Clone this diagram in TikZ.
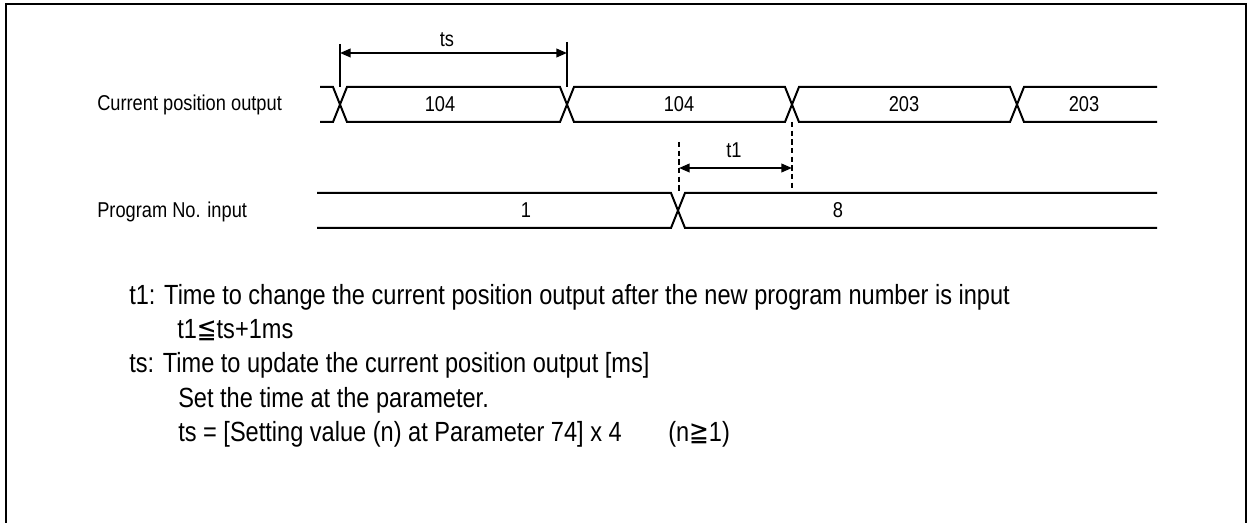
\documentclass[tikz,border=0pt]{standalone}
\usepackage{fontspec}
\setmainfont{Liberation Sans}[FakeStretch=0.85]
\newfontfamily\dvs{DejaVu Sans}[FakeStretch=0.85]
\usetikzlibrary{arrows.meta}
\begin{document}
\begin{tikzpicture}[x=0.75pt,y=-0.75pt,
  bus/.style={line width=1.5pt, line join=miter},
  tick/.style={line width=0.8pt},
  dsh/.style={line width=0.8pt, dash pattern=on 4pt off 2.5pt},
  dim/.style={line width=1.3pt, {Triangle[length=8pt,width=6.5pt]}-{Triangle[length=8pt,width=6.5pt]}},
  lbl/.style={inner sep=0pt, font=\fontsize{16.1}{19}\selectfont},
  txt/.style={inner sep=0pt, anchor=base west, font=\fontsize{20.8}{24}\selectfont}]
\useasboundingbox (0,0) rectangle (1249,523);
% frame
\draw[line width=1.5pt] (6,540) -- (6,4) -- (1246,4) -- (1246,540);

% signal names
\node[lbl, anchor=base west] (cpo) at (97,111) {Current position output};
\node[lbl, anchor=base west] (pni) at (97,218) {Program No. input};

% ---- Current position output bus
\def\h{7}
\foreach \n/\x in {a/340,b/567,c/792,d/1017}{
  \coordinate (\n tl) at (\x-\h,87);
  \coordinate (\n bl) at (\x-\h,122);
  \coordinate (\n tr) at (\x+\h,87);
  \coordinate (\n br) at (\x+\h,122);
}
\coordinate (s0t) at (320,87); \coordinate (s0b) at (320,122);
\coordinate (e0t) at (1157,87); \coordinate (e0b) at (1157,122);
\draw[bus] (s0t) -- (atl) -- (abr) -- (bbl) -- (btr) -- (ctl) -- (cbr) -- (dbl) -- (dtr) -- (e0t);
\draw[bus] (s0b) -- (abl) -- (atr) -- (btl) -- (bbr) -- (cbl) -- (ctr) -- (dtl) -- (dbr) -- (e0b);

\node[lbl] (v1) at (440,104.5) {104};
\node[lbl] (v2) at (679,104.5) {104};
\node[lbl] (v3) at (904,104.5) {203};
\node[lbl] (v4) at (1084,104.5) {203};

% ---- Program No. input bus
\coordinate (ptl) at (678-\h,193); \coordinate (pbl) at (678-\h,228);
\coordinate (ptr) at (678+\h,193); \coordinate (pbr) at (678+\h,228);
\coordinate (p0t) at (317,193); \coordinate (p0b) at (317,228);
\coordinate (p1t) at (1157,193); \coordinate (p1b) at (1157,228);
\draw[bus] (p0t) -- (ptl) -- (pbr) -- (p1b);
\draw[bus] (p0b) -- (pbl) -- (ptr) -- (p1t);
\node[lbl] (w1) at (526,210.5) {1};
\node[lbl] (w2) at (838,210.5) {8};

% ---- ts dimension
\coordinate (tsa) at (340,44);
\coordinate (tsb) at (567,42);
\coordinate (tsa2) at (340,87);
\coordinate (tsb2) at (567,87);
\draw[tick] (tsa) -- (tsa2);
\draw[tick] (tsb) -- (tsb2);
\coordinate (tsl) at (340,53); \coordinate (tsr) at (567,53);
\draw[dim] (tsl) -- (tsr);
\node[lbl] (ts) at (447,40) {ts};

% ---- t1 dimension
\coordinate (d1a) at (679,142); \coordinate (d1b) at (679,193);
\coordinate (d2a) at (792,122); \coordinate (d2b) at (792,188);
\draw[dsh] (d1a) -- (d1b);
\draw[dsh] (d2a) -- (d2b);
\coordinate (t1l) at (679,168); \coordinate (t1r) at (792,168);
\draw[dim] (t1l) -- (t1r);
\node[lbl] (t1) at (734,150) {t1};

% ---- notes
\node[txt] (n1) at (129,305) {t1: Time to change the current position output after the new program number is input};
\node[txt] (n2) at (177,339) {t1{\dvs ≦}ts+1ms};
\node[txt] (n3) at (129,373) {ts: Time to update the current position output [ms]};
\node[txt] (n4) at (178,408) {Set the time at the parameter.};
\node[txt] (n5) at (178,442) {ts = [Setting value (n) at Parameter 74] x 4};
\node[txt] (n6) at (668,442) {(n{\dvs ≧}1)};
\end{tikzpicture}
\end{document}
